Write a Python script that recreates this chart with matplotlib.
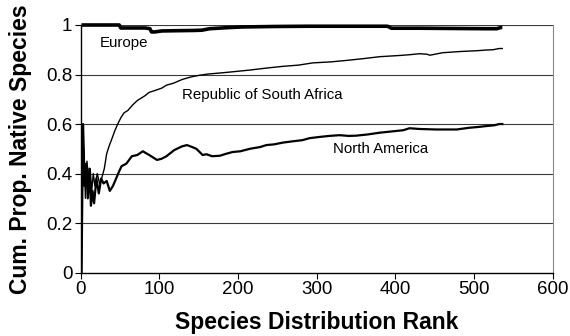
import matplotlib
matplotlib.use("Agg")
import matplotlib.pyplot as plt

plt.rcParams['font.family'] = ['Liberation Sans', 'DejaVu Sans']

# Europe
eu_rank = [1, 10, 21, 31, 41, 49, 51, 62, 72, 82, 88, 90, 94, 103, 123, 144, 154,
           164, 185, 205, 246, 288, 329, 370, 390, 395, 431, 472, 514, 529, 534, 536]
eu_val = [1.0, 1.0, 1.0, 1.0, 1.0, 1.0, 0.988, 0.988, 0.988, 0.988, 0.985, 0.972, 0.972,
          0.976, 0.977, 0.978, 0.979, 0.985, 0.989, 0.992, 0.994, 0.995, 0.995, 0.995, 0.995,
          0.987, 0.987, 0.986, 0.985, 0.985, 0.99, 0.99]

# Republic of South Africa
rsa_rank = [1, 2, 4, 6, 8, 10, 12, 14, 16, 18, 21, 24, 27, 30, 33, 36, 39, 43, 47, 51,
            55, 60, 66, 72, 77, 82, 87, 94, 103, 109, 118, 129, 140, 151, 162, 173, 190,
            215, 236, 257, 277, 295, 318, 338, 359, 380, 406, 418, 431, 440, 444, 460,
            483, 503, 516, 524, 532, 536]
rsa_val = [0.0, 0.33, 0.5, 0.3, 0.45, 0.36, 0.42, 0.33, 0.4, 0.35, 0.4, 0.36, 0.385, 0.42,
           0.48, 0.51, 0.535, 0.57, 0.6, 0.625, 0.645, 0.655, 0.677, 0.695, 0.705, 0.715,
           0.728, 0.735, 0.745, 0.757, 0.765, 0.78, 0.79, 0.797, 0.802, 0.805, 0.81, 0.818,
           0.826, 0.833, 0.838, 0.847, 0.851, 0.857, 0.864, 0.872, 0.877, 0.88, 0.884,
           0.882, 0.878, 0.888, 0.893, 0.896, 0.899, 0.9, 0.905, 0.905]

# North America
na_rank = [1, 3, 5, 7, 9, 11, 13, 15, 17, 20, 23, 26, 29, 33, 37, 41, 45, 49, 52, 58,
           65, 72, 79, 87, 97, 103, 109, 119, 129, 135, 141, 147, 155, 160, 167, 177,
           185, 193, 203, 215, 228, 236, 246, 257, 269, 282, 291, 304, 316, 329, 341,
           350, 365, 380, 395, 410, 418, 431, 452, 478, 494, 505, 516, 526, 532, 536]
na_val = [0.0, 0.6, 0.35, 0.44, 0.3, 0.42, 0.27, 0.33, 0.28, 0.38, 0.32, 0.38, 0.36,
          0.37, 0.33, 0.35, 0.38, 0.41, 0.43, 0.44, 0.47, 0.475, 0.49, 0.475, 0.455,
          0.46, 0.47, 0.495, 0.51, 0.515, 0.508, 0.5, 0.475, 0.478, 0.47, 0.472, 0.48,
          0.487, 0.49, 0.5, 0.507, 0.515, 0.518, 0.525, 0.53, 0.535, 0.543, 0.548,
          0.552, 0.555, 0.552, 0.553, 0.558, 0.565, 0.57, 0.575, 0.583, 0.58, 0.578,
          0.578, 0.585, 0.588, 0.592, 0.595, 0.6, 0.6]

x_ticks = [0, 100, 200, 300, 400, 500, 600]
y_ticks = [0, 0.2, 0.4, 0.6, 0.8, 1.0]
y_tick_labels = ['0', '0.2', '0.4', '0.6', '0.8', '1']

fig = plt.figure(figsize=(5.7, 3.36), dpi=100)
ax = fig.add_axes([0.1416, 0.1887, 0.828, 0.7369])

for y in y_ticks[1:]:
    ax.axhline(y, color='#3a3a3a', lw=0.8, zorder=1)

ax.plot(rsa_rank, rsa_val, color='black', lw=1.0, zorder=3)
ax.plot(na_rank, na_val, color='black', lw=1.6, zorder=3)
ax.plot(eu_rank, eu_val, color='black', lw=2.6, zorder=4, solid_capstyle='butt',
        clip_on=False)

ax.set_xlim(0, 600)
ax.set_ylim(0, 1)
ax.set_xticks(x_ticks)
ax.set_yticks(y_ticks)
ax.set_yticklabels(y_tick_labels)
ax.tick_params(axis='both', direction='out', length=4, width=0.8, labelsize=13.5,
               colors='black', pad=2)
ax.spines['top'].set_visible(False)
ax.spines['right'].set_color('#888888')
ax.spines['left'].set_linewidth(1.0)
ax.spines['bottom'].set_linewidth(1.0)

ax.set_xlabel('Species Distribution Rank', fontsize=16.5, fontweight='bold')
ax.set_ylabel('Cum. Prop. Native Species', fontsize=16.5, fontweight='bold')
ax.xaxis.set_label_coords(0.5, -0.155)
ax.yaxis.set_label_coords(-0.104, 0.5)

ax.text(24.5, 0.927, 'Europe', fontsize=10.8, va='center', ha='left')
ax.text(128.7, 0.717, 'Republic of South Africa', fontsize=10.8, va='center', ha='left')
ax.text(320.5, 0.498, 'North America', fontsize=10.8, va='center', ha='left')

fig.savefig('out.png', dpi=100)
